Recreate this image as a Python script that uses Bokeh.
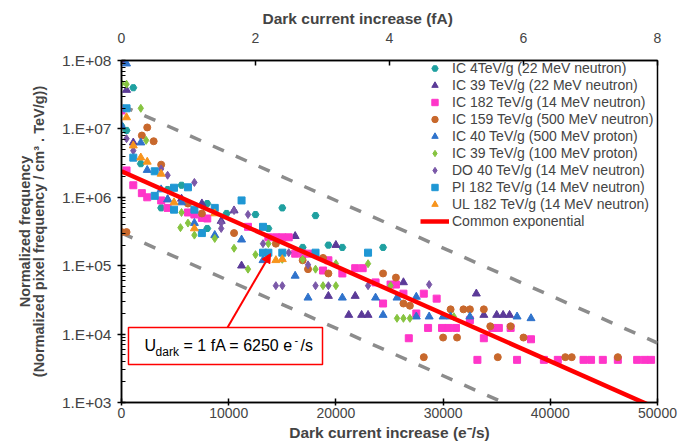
from bokeh.plotting import figure
from bokeh.models import (Range1d, LinearAxis, FixedTicker, CustomJSTickFormatter,
                          Legend, LegendItem, BoxAnnotation, Label, Arrow, NormalHead)
from bokeh.embed import file_html
from bokeh.resources import INLINE

FONT = "Liberation Sans"

# ---------------- data (x: dark current increase in e-/s, y: normalized frequency) -------------
teal_x = [0, 470, 1100, 1800, 3700, 4300, 5600, 8000, 8000, 9800, 12500, 13700, 15000, 16900, 18100, 19300, 20600, 24400]
teal_y = [1.1e7, 9.5e6, 4.0e7, 3.1e6, 7.0e5, 1.3e6, 1.5e6, 8.1e5, 3.5e5, 5.8e5, 5.6e5, 3.5e5, 7.0e5, 1.85e5, 5.4e5, 2.0e5, 1.85e5, 1.85e5]

ic39n_x = [0, 470, 1100, 4300, 5600, 7500, 9300, 10500, 16200, 20000, 19300, 21800, 21200, 22400, 23000, 26300, 33100, 33800, 35000, 35600, 36200, 11200]
ic39n_y = [1.0e8, 3.7e7, 6.3e6, 9.3e5, 9.5e5, 8.1e5, 4.5e5, 6.4e5, 2.7e5, 2.0e5, 3.6e4, 3.6e4, 1.9e4, 1.9e4, 1.9e4, 5.7e4, 3.9e4, 1.9e4, 1.9e4, 1.9e4, 1.9e4, 1.0e5]

ic182_x = [0, 470, 1100, 1900, 2400, 3700, 4300, 6200, 6800, 7500, 8000, 11800, 13700, 14400, 15000,
           15600, 16200, 16900, 17400, 18800, 19300, 20600, 21800, 22500, 23700, 24400, 25100, 25600, 26300, 26800,
           27500, 28200, 28600, 29900, 30500, 31200, 32500, 33800, 34600, 35200, 36300, 38200, 33200, 36900, 39400,
           40700, 43100, 43800, 44900, 46300, 48100, 48800, 49400, 29400]
ic182_y = [1.86e7, 2.47e6, 1.5e6, 1.15e6, 1.0e6, 9.0e5, 7.0e5, 6.0e5, 5.6e5, 5.0e5, 4.9e5, 3.7e5, 2.6e5, 2.6e5, 2.6e5,
           2.6e5, 1.5e5, 1.5e5, 1.5e5, 8.5e4, 1.2e5, 7.7e4, 9.2e4, 9.2e4, 5.7e4, 2.8e4, 5.3e4, 5.3e4, 3.9e4, 8.7e3,
           2.0e4, 3.9e4, 1.23e4, 1.23e4, 1.23e4, 1.23e4, 1.6e4, 8.7e3, 1.23e4, 1.23e4, 1.23e4, 8.4e3, 4.2e3, 4.2e3, 4.2e3,
           4.2e3, 4.2e3, 4.2e3, 4.2e3, 4.2e3, 4.2e3, 4.2e3, 4.2e3, 3.3e4]

ic159_x = [0, 470, 1900, 2400, 3000, 3700, 6200, 7500, 10500, 14400, 16900, 17400, 18800, 19300, 24400, 25600,
           26300, 26900, 28200, 30000, 31300, 30700, 31900, 32500, 33800, 34400, 36300, 37500, 35100, 41400, 42000, 46300]
ic159_y = [3.1e5, 3.1e5, 8.0e6, 1.05e7, 6.6e6, 3.0e6, 8.1e5, 5.8e5, 3.0e5, 2.1e5, 1.2e5, 8.9e4, 1.3e5, 7.7e4, 7.7e4, 6.7e4,
           2.8e4, 2.6e4, 4.6e3, 8.9e3, 8.9e3, 2.3e4, 2.3e4, 2.3e4, 2.3e4, 1.3e4, 1.3e4, 8.9e3, 4.6e3, 4.6e3, 4.6e3, 4.6e3]

ic40p_x = [470, 0, 1800, 2400, 3700, 4300, 5600, 6800, 8700, 11200, 13200, 16200, 17400, 20600, 23700, 25700,
           27500, 24400, 27500, 28700, 30000, 30700, 32500, 36900, 38200]
ic40p_y = [9.0e7, 1.1e7, 6.3e6, 2.5e6, 1.3e6, 9.3e5, 8.4e5, 4.2e5, 2.8e5, 2.4e5, 1.2e5, 7.1e4, 3.4e4, 3.4e4, 3.4e4, 3.4e4,
           3.5e4, 1.9e4, 1.8e4, 1.8e4, 1.8e4, 1.8e4, 1.8e4, 1.8e4, 1.7e4]

ic39p_x = [0, 470, 1800, 2300, 5500, 5600, 6200, 6800, 8700, 10500, 11800, 12500, 13700, 15000, 16900, 18100, 18800,
           20000, 20000, 23000, 25100, 25700, 26300, 26900, 31000]
ic39p_y = [4.6e7, 4.5e7, 2.0e7, 6.8e6, 3.6e5, 6.0e5, 4.2e5, 2.8e5, 2.5e5, 1.8e5, 8.9e4, 1.45e5, 2.1e5, 1.24e5, 1.24e5,
           8.9e4, 5.1e4, 5.1e4, 1.07e5, 1.07e5, 5.1e4, 1.7e4, 1.7e4, 1.7e4, 1.8e4]

do40_x = [470, 1100, 3700, 4300, 6800, 9300, 9300, 10500, 11800, 13200, 15600, 14400, 15000, 17400, 18100, 19300, 23000, 28700]
do40_y = [7.2e6, 4.8e6, 2.6e6, 2.1e6, 1.65e6, 4.2e5, 3.5e5, 6.4e5, 5.6e5, 2.1e5, 1.55e5, 5.1e4, 5.1e4, 1.03e5, 5.1e4, 5.1e4, 5.1e4, 5.3e4]

pi182_x = [470, 1100, 3100, 3100, 4900, 6200, 4900, 6800, 8700, 11200, 7500, 13200, 13200, 13700, 15000, 18100, 23000]
pi182_y = [2.0e7, 3.8e6, 2.4e6, 1.05e6, 1.38e6, 1.4e6, 6.6e5, 6.6e5, 7.0e5, 9.0e5, 3.0e5, 3.7e5, 1.55e5, 1.55e5, 1.55e5, 1.55e5, 1.55e5]

ul182_x = [470, 1100, 1800, 2400, 3700, 4900, 6800, 8700, 14400, 15000]
ul182_y = [1.47e7, 5.7e6, 3.8e6, 3.3e6, 2.2e6, 8.4e5, 3.5e5, 5.8e5, 1.2e5, 1.24e5]

# common exponential and the two bounding (dashed) lines, as end points
common_x = [0, 50000]
common_y = [2.4e6, 8.1e2]
upper_x = [0, 50000]
upper_y = [2.2e7, 7.4e3]
lower_x = [0, 50000]
lower_y = [3.0e5, 1.0e2]

series_names = ["IC 4TeV/g (22 MeV neutron)", "IC 39 TeV/g (22 MeV neutron)", "IC 182 TeV/g (14 MeV neutron)",
                "IC 159 TeV/g (500 MeV neutron)", "IC 40 TeV/g (500 MeV proton)", "IC 39 TeV/g (100 MeV proton)",
                "DO 40 TeV/g (14 MeV neutron)", "PI 182 TeV/g (14 MeV neutron)", "UL 182 TeV/g (14 MeV neutron)"]
line_name = "Common exponential"

x_ticks = [0, 10000, 20000, 30000, 40000, 50000]
top_ticks = [0, 2, 4, 6, 8]
y_ticks = [1e3, 1e4, 1e5, 1e6, 1e7, 1e8]

top_title = "Dark current increase (fA)"
bottom_title = "Dark current increase (e\u207b/s)"
y_title = "Normalized frequency\n(Normalized pixel frequency / cm\u00b3 . TeV/g))"

# ---------------- figure ----------------
p = figure(width=689, height=445, x_range=Range1d(0, 50000), y_range=Range1d(1e3, 1e8),
           y_axis_type="log", output_backend="svg", toolbar_location=None,
           min_border_left=121, min_border_right=32, min_border_top=60, min_border_bottom=43)
p.grid.visible = False
p.outline_line_color = "black"
p.outline_line_width = 1.5
p.background_fill_color = "white"
p.border_fill_color = "white"

# title used as the top axis title, shifted left like the original
p.title.text = top_title
p.title.align = "left"
p.title.offset = 141
p.title.text_font = FONT
p.title.text_font_size = "15.5px"
p.title.text_font_style = "bold"
p.title.standoff = 6

# bottom axis
xa = p.xaxis[0]
xa.ticker = FixedTicker(ticks=x_ticks)
xa.axis_label = bottom_title
xa.axis_label_text_font = FONT
xa.axis_label_text_font_style = "bold"
xa.axis_label_text_font_size = "15.5px"
xa.axis_label_standoff = 3
xa.major_label_text_font = FONT
xa.major_label_text_font_size = "14px"
xa.major_label_standoff = 2
xa.major_tick_in = 4
xa.major_tick_out = 3
xa.minor_tick_in = 0
xa.minor_tick_out = 0
xa.axis_line_width = 1.5
xa.major_tick_line_width = 1.5

# left log axis
ya = p.yaxis[0]
minor = [m * d for d in y_ticks[:-1] for m in range(2, 10)]
ya.ticker = FixedTicker(ticks=y_ticks, minor_ticks=minor)
ya.formatter = CustomJSTickFormatter(code="""
const e = Math.round(Math.log10(tick));
return "1.E+" + (e < 10 ? "0" : "") + e;
""")
ya.axis_label = y_title
ya.axis_label_text_font = FONT
ya.axis_label_text_font_style = "bold"
ya.axis_label_text_font_size = "14.5px"
ya.axis_label_text_line_height = 0.85
ya.axis_label_standoff = 12
ya.major_label_text_font = FONT
ya.major_label_text_font_size = "15.5px"
ya.major_label_standoff = 6
ya.major_tick_in = 4
ya.major_tick_out = 4
ya.minor_tick_in = 4
ya.minor_tick_out = 0
ya.axis_line_width = 1.5
ya.major_tick_line_width = 1.5

# top axis in fA
p.extra_x_ranges = {"fA": Range1d(0, 8)}
ta = LinearAxis(x_range_name="fA", ticker=FixedTicker(ticks=top_ticks))
ta.major_label_text_font = FONT
ta.major_label_text_font_size = "14px"
ta.major_label_standoff = 18
ta.major_tick_in = 5
ta.major_tick_out = 0
ta.minor_tick_in = 0
ta.minor_tick_out = 0
ta.axis_line_width = 1.5
ta.major_tick_line_width = 1.5
p.add_layout(ta, "above")

# ---------------- glyphs ----------------
p.line(upper_x, upper_y, line_color="#8c8c8c", line_width=3.5, line_dash="12 13")
p.line(lower_x, lower_y, line_color="#8c8c8c", line_width=3.5, line_dash="12 13")

specs = [
    (teal_x, teal_y, "hex", "#1fa0a0", 7),
    (ic39n_x, ic39n_y, "triangle", "#5b3a98", 8),
    (ic182_x, ic182_y, "square", "#ff36c9", 7),
    (ic159_x, ic159_y, "circle", "#c8682c", 7),
    (ic40p_x, ic40p_y, "triangle", "#2f73cc", 8),
    (ic39p_x, ic39p_y, "diamond", "#86c440", 8),
    (do40_x, do40_y, "diamond", "#7a58a8", 8),
    (pi182_x, pi182_y, "square", "#1f97d4", 7),
    (ul182_x, ul182_y, "triangle", "#f7941d", 8),
]
items = []
for (xs, ys, mk, col, sz), name in zip(specs, series_names):
    r = p.scatter(xs, ys, marker=mk, size=sz, fill_color=col, line_color=col)
    items.append(LegendItem(label=name, renderers=[r]))

red = p.line(common_x, common_y, line_color="#ff0000", line_width=4.5)
items.append(LegendItem(label=line_name, renderers=[red]))

legend = Legend(items=items, location=(299, 173), padding=0, margin=0, spacing=1,
                glyph_width=29, glyph_height=16, label_height=16, label_standoff=3,
                label_text_font=FONT, label_text_font_size="14px", label_text_baseline="middle",
                border_line_color=None, background_fill_alpha=0)
p.add_layout(legend, "center")

# ---------------- annotation ----------------
box_left, box_right, box_top, box_bottom = 650, 18750, 1.25e4, 3.6e3
arrow_x0, arrow_y0, arrow_x1, arrow_y1 = 9890, 1.25e4, 13900, 1.5e5
text_x, text_y = 2150, 6.8e3

p.add_layout(Arrow(x_start=arrow_x0, y_start=arrow_y0, x_end=arrow_x1, y_end=arrow_y1,
                   line_color="#ff0000", line_width=2,
                   end=NormalHead(size=9, fill_color="#ff0000", line_color="#ff0000")))
p.add_layout(BoxAnnotation(left=box_left, right=box_right, top=box_top, bottom=box_bottom,
                           fill_color="white", fill_alpha=1, line_color="#ff0000", line_width=1.5,
                           line_alpha=1))
pieces = [("U", 0, 0, "16px"), ("dark", 11, -6, "12px"), ("= 1 fA = 6250 e", 39, 0, "16px"),
          ("-", 150, 6, "11px"), ("/s", 156, 0, "16px")]
for t, dx, dy, fs in pieces:
    p.add_layout(Label(x=text_x, y=text_y, x_offset=dx, y_offset=dy, text=t, text_font=FONT,
                       text_font_size=fs, text_baseline="middle", text_color="black"))

open("out.html", "w").write(file_html(p, INLINE))
